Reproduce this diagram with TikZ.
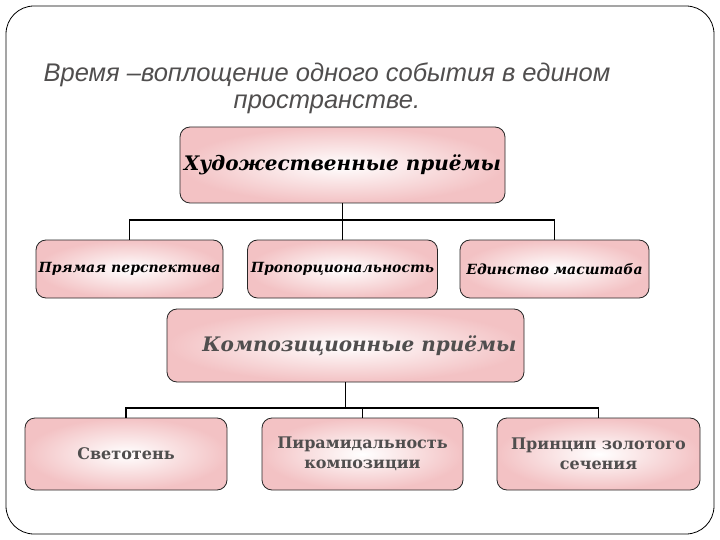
\documentclass[tikz,border=0pt]{standalone}
\usepackage{fontspec}
\setmainfont{DejaVu Serif}
\newfontfamily\titlefont{Liberation Sans}
\usepackage{tikz}
\usetikzlibrary{positioning}
\definecolor{boxpink}{RGB}{243,194,196}
\definecolor{txtgray}{RGB}{80,78,78}

\tikzset{
  pinkbox/.style={draw=black!85,line width=0.8pt,rounded corners=10pt,
    inner color=white,outer color=boxpink,inner sep=0pt,align=center},
  bus/.style={line width=1.8pt,black}
}

\begin{document}
\begin{tikzpicture}[x=1pt,y=-1pt]
  \useasboundingbox (0,0) rectangle (720,540);
  % outer frame
  \draw[line width=0.8pt,rounded corners=28pt] (6,6) rectangle (714,534);
  % title
  \node[text=txtgray,font=\titlefont\itshape\fontsize{25.5}{27}\selectfont,align=center] (title) at (327,88)
    {Время \textendash воплощение одного события в едином\\пространстве.};
  % first level
  \node[pinkbox,minimum width=325,minimum height=76,font=\bfseries\itshape\fontsize{20}{24}\selectfont] (art) at (342.5,165) {Художественные приёмы};
  \node[pinkbox,minimum width=187,minimum height=58,font=\bfseries\itshape\fontsize{14}{17}\selectfont] (persp) at (129.5,269) {Прямая перспектива};
  \node[pinkbox,minimum width=190,minimum height=58,font=\bfseries\itshape\fontsize{14}{17}\selectfont] (prop) at (342.5,269) {Пропорциональность};
  \node[pinkbox,minimum width=189,minimum height=58,font=\bfseries\itshape\fontsize{14}{17}\selectfont] (scale) at (554.5,269) {Единство масштаба};
  \coordinate (busA) at (342.5,220);
  \draw[bus] (art.south) -- (busA);
  \draw[bus] (persp.north) |- (busA);
  \draw[bus] (scale.north) |- (busA);
  \draw[bus] (prop.north) -- (busA);
  % second level
  \node[pinkbox,minimum width=357,minimum height=73,text=txtgray,font=\bfseries\itshape\fontsize{20}{24}\selectfont] (comp) at (345.5,345.5) {\hspace*{28pt}Композиционные приёмы};
  \node[pinkbox,minimum width=202,minimum height=72,text=txtgray,font=\bfseries\fontsize{16}{20}\selectfont] (light) at (126,454) {Светотень};
  \node[pinkbox,minimum width=201,minimum height=72,text=txtgray,font=\bfseries\fontsize{16}{20}\selectfont] (pyr) at (362.5,454) {Пирамидальность\\композиции};
  \node[pinkbox,minimum width=203,minimum height=72,text=txtgray,font=\bfseries\fontsize{16}{20}\selectfont] (gold) at (598.5,454) {Принцип золотого\\сечения};
  \coordinate (busB) at (345.5,408);
  \draw[bus] (comp.south) -- (busB);
  \draw[bus] (light.north) |- (busB);
  \draw[bus] (gold.north) |- (busB);
  \draw[bus] (pyr.north) |- (busB);
\end{tikzpicture}
\end{document}
